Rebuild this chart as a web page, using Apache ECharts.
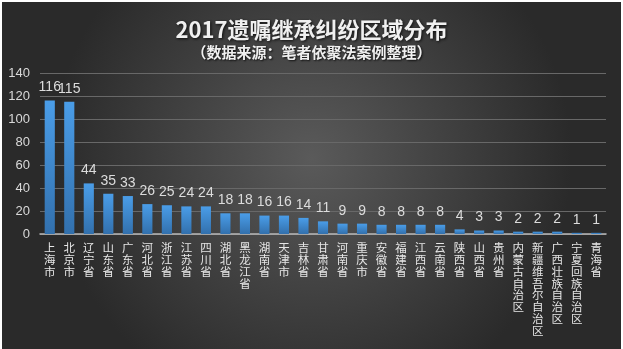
<!DOCTYPE html>
<html>
<head>
<meta charset="utf-8">
<script src="https://cdn.jsdelivr.net/npm/echarts@6/dist/echarts.min.js"></script>
<style>
  html, body { margin: 0; padding: 0; background: #ffffff; }
  #chart { position: absolute; left: 2px; top: 2px; width: 619px; height: 347px; }
</style>
</head>
<body>
<div id="chart"></div>
<script>
// Regions, ordered by number of cases
const regions = ['上海市', '北京市', '辽宁省', '山东省', '广东省', '河北省', '浙江省', '江苏省', '四川省',
  '湖北省', '黑龙江省', '湖南省', '天津市', '吉林省', '甘肃省', '河南省', '重庆市', '安徽省', '福建省',
  '江西省', '云南省', '陕西省', '山西省', '贵州省', '内蒙古自治区', '新疆维吾尔自治区', '广西壮族自治区',
  '宁夏回族自治区', '青海省'];
// Case counts per region
const caseCounts = [116, 115, 44, 35, 33, 26, 25, 24, 24, 18, 18, 16, 16, 14, 11, 9, 9, 8, 8, 8, 8, 4, 3, 3, 2, 2, 2, 1, 1];
// Value axis ticks
const yTicks = [0, 20, 40, 60, 80, 100, 120, 140];

const titleText = '2017遗嘱继承纠纷区域分布';
const subtitleText = '（数据来源：笔者依聚法案例整理）';

const chart = echarts.init(document.getElementById('chart'));
const cjk = '"Noto Sans CJK SC", "Noto Sans", sans-serif';

chart.setOption({
  backgroundColor: {
    type: 'radial', x: 0.5, y: 0.45, r: 0.75,
    colorStops: [
      { offset: 0, color: '#5a5a5a' },
      { offset: 1, color: '#2a2a2a' }
    ]
  },
  title: {
    text: titleText,
    subtext: subtitleText,
    left: 'center',
    top: 12,
    itemGap: 4,
    textStyle: {
      color: '#f0f0f0', fontSize: 22, fontWeight: 'bold', fontFamily: cjk,
      textShadowColor: 'rgba(0,0,0,0.8)', textShadowBlur: 3, textShadowOffsetX: 1, textShadowOffsetY: 1
    },
    subtextStyle: {
      color: '#f0f0f0', fontSize: 15, fontWeight: 'bold', fontFamily: cjk,
      textShadowColor: 'rgba(0,0,0,0.8)', textShadowBlur: 2, textShadowOffsetX: 1, textShadowOffsetY: 1
    }
  },
  grid: { left: 38, right: 15, top: 71, bottom: 115 },
  xAxis: {
    type: 'category',
    data: regions,
    axisLine: { lineStyle: { color: '#b8b8b8', width: 1.5 } },
    axisTick: { show: false },
    axisLabel: {
      interval: 0,
      color: '#e6e6e6',
      fontSize: 11.5,
      fontFamily: cjk,
      lineHeight: 11.8,
      margin: 8,
      verticalAlign: 'top',
      formatter: v => v.split('').join('\n')
    }
  },
  yAxis: {
    type: 'value',
    min: yTicks[0],
    max: yTicks[yTicks.length - 1],
    interval: yTicks[1] - yTicks[0],
    axisLine: { show: false },
    axisTick: { show: false },
    axisLabel: { color: '#d9d9d9', fontSize: 13, fontFamily: '"Liberation Sans", Arial, sans-serif', margin: 10 },
    splitLine: { lineStyle: { color: '#686868', width: 1 } }
  },
  series: [{
    type: 'bar',
    data: caseCounts,
    barWidth: '52%',
    itemStyle: {
      color: {
        type: 'linear', x: 0, y: 0, x2: 0, y2: 1,
        colorStops: [
          { offset: 0, color: '#4a9de8' },
          { offset: 1, color: '#3270ad' }
        ]
      }
    },
    label: {
      show: true,
      position: 'top',
      distance: 6,
      color: '#dcdcdc',
      fontSize: 14,
      fontFamily: '"Liberation Sans", Arial, sans-serif'
    }
  }]
});
</script>
</body>
</html>
